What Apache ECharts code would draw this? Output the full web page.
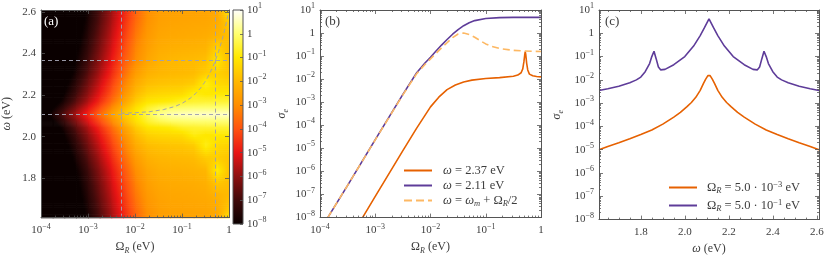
<!DOCTYPE html>
<html><head><meta charset="utf-8">
<script src="https://cdn.jsdelivr.net/npm/echarts@6/dist/echarts.min.js"></script>
<style>html,body{margin:0;padding:0;background:#fff}#c{width:830px;height:260px}</style>
</head><body><div id="c"></div>
<script>
// ================= DATA =================
// Panel (a): heat map of log10(sigma_e) on (log10 Omega_R, omega) grid
const omegaRows = [1.61,1.66,1.72,1.78,1.84,1.90,1.96,2.01,2.05,2.08,2.11,2.14,2.17,2.21,2.26,2.31,2.37,2.43,2.49,2.55,2.61];
const logOmegaRCols = [-4,-3.75,-3.5,-3.25,-3,-2.75,-2.5,-2.25,-2,-1.75,-1.5,-1.25,-1,-0.75,-0.5,-0.25,0];
const logSigmaGrid = [
 [-11.8,-10.8,-9.8,-8.8,-7.8,-6.8,-5.8,-4.8,-3.8,-3.0,-2.65,-2.57,-2.55,-2.52,-2.5,-2.4,-1.0],
 [-11.62,-10.62,-9.62,-8.62,-7.62,-6.62,-5.62,-4.62,-3.62,-2.9,-2.6,-2.5,-2.48,-2.45,-2.42,-2.3,-1.7],
 [-11.42,-10.42,-9.42,-8.42,-7.42,-6.42,-5.42,-4.42,-3.42,-2.75,-2.5,-2.42,-2.4,-2.37,-2.32,-2.12,-1.95],
 [-11.23,-10.23,-9.23,-8.23,-7.23,-6.23,-5.23,-4.23,-3.23,-2.6,-2.38,-2.32,-2.3,-2.27,-2.2,-1.7,-1.9],
 [-11.0,-10.0,-9.0,-8.0,-7.0,-6.0,-5.0,-4.0,-3.0,-2.45,-2.25,-2.2,-2.17,-2.13,-2.05,-0.85,-1.85],
 [-10.65,-9.65,-8.65,-7.65,-6.65,-5.65,-4.65,-3.65,-2.7,-2.2,-2.05,-2.0,-1.98,-1.93,-1.6,-1.55,-1.75],
 [-10.3,-9.3,-8.3,-7.3,-6.3,-5.3,-4.3,-3.3,-2.35,-1.9,-1.8,-1.75,-1.72,-1.6,-0.8,-1.3,-1.45],
 [-9.95,-8.95,-7.95,-6.95,-5.95,-4.95,-3.95,-2.95,-2.0,-1.5,-1.38,-1.33,-1.28,-0.85,-1.05,-1.0,-0.98],
 [-9.55,-8.55,-7.55,-6.55,-5.55,-4.55,-3.55,-2.55,-1.6,-1.05,-0.95,-0.85,-0.6,-0.55,-0.5,-0.5,-0.5],
 [-9.05,-8.05,-7.05,-6.05,-5.05,-4.05,-3.05,-2.05,-1.2,-0.6,-0.25,-0.05,0.0,0.05,0.05,0.05,0.05],
 [-8.6,-7.6,-6.6,-5.6,-4.6,-3.6,-2.6,-1.65,-1.0,-0.35,0.2,0.45,0.55,0.6,0.62,0.62,0.62],
 [-9.05,-8.05,-7.05,-6.05,-5.05,-4.05,-3.05,-2.05,-1.2,-0.6,-0.25,-0.05,0.0,0.05,0.05,0.05,0.05],
 [-9.55,-8.55,-7.55,-6.55,-5.55,-4.55,-3.55,-2.55,-1.6,-1.05,-0.95,-0.85,-0.6,-0.55,-0.5,-0.5,-0.5],
 [-9.95,-8.95,-7.95,-6.95,-5.95,-4.95,-3.95,-2.95,-2.0,-1.5,-1.38,-1.33,-1.28,-0.85,-1.05,-1.0,-0.98],
 [-10.3,-9.3,-8.3,-7.3,-6.3,-5.3,-4.3,-3.3,-2.35,-1.9,-1.8,-1.75,-1.72,-1.6,-0.8,-1.3,-1.45],
 [-10.65,-9.65,-8.65,-7.65,-6.65,-5.65,-4.65,-3.65,-2.7,-2.2,-2.05,-2.0,-1.98,-1.93,-1.6,-1.5,-1.75],
 [-10.95,-9.95,-8.95,-7.95,-6.95,-5.95,-4.95,-3.95,-3.05,-2.45,-2.15,-2.03,-1.96,-1.93,-1.85,-1.0,-1.9],
 [-11.2,-10.2,-9.2,-8.2,-7.2,-6.2,-5.2,-4.2,-3.2,-2.6,-2.3,-2.22,-2.18,-2.15,-2.1,-1.5,-1.95],
 [-11.42,-10.42,-9.42,-8.42,-7.42,-6.42,-5.42,-4.42,-3.42,-2.75,-2.45,-2.38,-2.35,-2.32,-2.28,-2.1,-1.85],
 [-11.62,-10.62,-9.62,-8.62,-7.62,-6.62,-5.62,-4.62,-3.62,-2.9,-2.55,-2.48,-2.45,-2.42,-2.4,-2.3,-1.6],
 [-11.8,-10.8,-9.8,-8.8,-7.8,-6.8,-5.8,-4.8,-3.8,-3.0,-2.65,-2.57,-2.55,-2.52,-2.5,-2.4,-1.0]
];
const refOmegaLines = [2.37, 2.11];
const refOmegaRLines = [5e-3, 0.5];
const upperBranchOmegaR = [0.005,0.01,0.02,0.04,0.07,0.1,0.15,0.2,0.25,0.3,0.35,0.4,0.45,0.5,0.6,0.7,0.8,0.9,1.0];
const upperBranchOmega  = [2.1125,2.115,2.12,2.13,2.145,2.16,2.185,2.21,2.235,2.26,2.285,2.31,2.335,2.36,2.41,2.46,2.51,2.56,2.61];

// colour scale: one colour per decade of sigma_e, 1e-8 ... 1e1
const cmapColors = ['#0a0000','#3e0a0a','#8c1010','#e81414','#ff5210','#ff8e00','#ffb800','#ffe800','#ffff70','#ffffff'];
const colorbarTicks = [1e-8,1e-7,1e-6,1e-5,1e-4,1e-3,1e-2,1e-1,1,10];

// Panel (b): log10(Omega_R) vs log10(sigma_e)
const bLogOmR_237 = [-3.23,-3,-2.5,-2.25,-2.0,-1.85,-1.7,-1.55,-1.4,-1.25,-1.0,-0.75,-0.5,-0.42,-0.36,-0.33,-0.31,-0.295,-0.285,-0.275,-0.26,-0.24,-0.21,-0.15,-0.08,0];
const bLogSig_237 = [-8,-7.08,-5.1,-4.12,-3.2,-2.78,-2.45,-2.25,-2.12,-2.04,-1.97,-1.93,-1.87,-1.82,-1.72,-1.55,-1.25,-0.95,-0.8,-0.95,-1.3,-1.6,-1.78,-1.85,-1.88,-1.9];
const bLogOmR_211 = [-3.86,-3.5,-3.0,-2.5,-2.25,-2.1,-2.0,-1.9,-1.8,-1.7,-1.6,-1.5,-1.4,-1.3,-1.2,-1.0,-0.75,-0.5,0];
const bLogSig_211 = [-8,-6.6,-4.62,-2.66,-1.72,-1.3,-1.05,-0.78,-0.52,-0.28,-0.05,0.15,0.32,0.45,0.54,0.63,0.67,0.68,0.68];
const bLogOmR_br  = [-3.86,-3.5,-3,-2.5,-2.25,-2.1,-2,-1.9,-1.8,-1.7,-1.6,-1.5,-1.4,-1.3,-1.2,-1.1,-1.0,-0.9,-0.75,-0.5,-0.3,0];
const bLogSig_br  = [-8,-6.6,-4.63,-2.68,-1.76,-1.36,-1.12,-0.88,-0.64,-0.42,-0.2,-0.04,0.0,-0.06,-0.18,-0.33,-0.47,-0.57,-0.67,-0.75,-0.78,-0.8];

// Panel (c): omega vs log10(sigma_e)
const cOmega_a = [1.61,1.65,1.70,1.75,1.80,1.85,1.90,1.95,1.98,2.01,2.03,2.05,2.07,2.085,2.095,2.105,2.11,2.115,2.125,2.135,2.15,2.17,2.19,2.21,2.24,2.27,2.32,2.37,2.42,2.47,2.52,2.57,2.61];
const cLogSig_a = [-5.0,-4.86,-4.7,-4.53,-4.35,-4.15,-3.9,-3.6,-3.4,-3.15,-2.97,-2.75,-2.45,-2.15,-1.97,-1.82,-1.8,-1.82,-1.97,-2.15,-2.45,-2.75,-2.97,-3.15,-3.4,-3.6,-3.9,-4.15,-4.35,-4.53,-4.7,-4.86,-5.0];
const cOmega_b = [1.61,1.65,1.70,1.75,1.78,1.80,1.82,1.84,1.85,1.86,1.87,1.88,1.89,1.91,1.95,2.00,2.04,2.07,2.09,2.11,2.13,2.15,2.18,2.22,2.27,2.31,2.33,2.34,2.35,2.36,2.37,2.38,2.40,2.42,2.44,2.47,2.52,2.57,2.61];
const cLogSig_b = [-2.46,-2.38,-2.27,-2.12,-2.0,-1.88,-1.65,-1.3,-1.0,-0.77,-1.1,-1.45,-1.57,-1.55,-1.35,-1.0,-0.55,-0.1,0.25,0.62,0.25,-0.1,-0.55,-1.0,-1.35,-1.55,-1.57,-1.45,-1.1,-0.77,-1.0,-1.3,-1.65,-1.88,-2.0,-2.12,-2.27,-2.38,-2.46];

const decadesX = [1e-4,1e-3,1e-2,1e-1,1];
const decadesY = [1e-8,1e-7,1e-6,1e-5,1e-4,1e-3,1e-2,1e-1,1,10];
const omegaTicks = [1.8,2.0,2.2,2.4,2.6];

// ================= STYLE / BUILD =================
const FONT = 'Liberation Serif';
const TXT = '#3c3c3c';
const AX = '#555';
const C_OR = '#e66101', C_PU = '#5e3c99', C_LO = '#fdb863';

function minorsBetween(decs) {
  const out = [];
  for (let i = 0; i < decs.length - 1; i++) for (let k = 2; k <= 9; k++) out.push(k * decs[i]);
  return out;
}
const rich = {
  b: {fontFamily: FONT, fontSize: 11, color: TXT, lineHeight: 16},
  sup: {fontFamily: FONT, fontSize: 8, color: TXT, lineHeight: 8, verticalAlign: 'top'},
  i: {fontFamily: FONT, fontSize: 12, color: TXT, fontStyle: 'italic', lineHeight: 16},
  sub: {fontFamily: FONT, fontSize: 8, color: TXT, fontStyle: 'italic', lineHeight: 8, verticalAlign: 'bottom'},
  t: {fontFamily: FONT, fontSize: 12, color: TXT, lineHeight: 16}
};
function powFmt(v) {
  const e = Math.round(Math.log10(v));
  if (e === 0) return '{b|1}';
  return '{b|10}{sup|' + (e < 0 ? '−' + (-e) : e) + '}';
}
function axis(o) {
  const a = {
    type: o.type, gridIndex: o.grid, position: o.pos, min: o.min, max: o.max, z: 10,
    axisLine: {show: !!o.line, onZero: false, lineStyle: {color: AX, width: 1}},
    axisTick: {show: !!o.ticks, inside: true, length: o.len || 4, customValues: o.ticks, lineStyle: {color: AX, width: 0.8}},
    axisLabel: {show: !!o.labels, customValues: o.labels, formatter: o.fmt, margin: o.margin || 5, rich: rich,
      showMinLabel: true, showMaxLabel: true, fontFamily: FONT, fontSize: 11, color: TXT},
    splitLine: {show: false}, minorTick: {show: false}
  };
  if (o.type === 'log') a.logBase = 10;
  if (o.name) {
    a.name = o.name; a.nameLocation = 'middle'; a.nameGap = o.gap;
    a.nameTextStyle = {rich: rich, fontFamily: FONT, fontSize: 12, color: TXT};
  }
  if (o.show === false) a.show = false;
  return a;
}
const fmtOmega = v => '{b|' + v.toFixed(1) + '}';
const minX = minorsBetween(decadesX), minY = minorsBetween(decadesY);
const omegaMinor = [1.65,1.7,1.75,1.85,1.9,1.95,2.05,2.1,2.15,2.25,2.3,2.35,2.45,2.5,2.55];
const nameOmR = '{t|Ω}{sub|R}{t| (eV)}';
const nameOm = '{i|ω}{t| (eV)}';
const nameSig = '{i|σ}{sub|e}';

const xAxis = [
  axis({type:'log', grid:0, pos:'bottom', min:1e-4, max:1, line:true, ticks:decadesX, labels:decadesX, fmt:powFmt, name:nameOmR, gap:17}),
  axis({type:'log', grid:0, pos:'bottom', min:1e-4, max:1, ticks:minX, len:2}),
  axis({type:'log', grid:0, pos:'top', min:1e-4, max:1, line:true, ticks:decadesX}),
  axis({type:'log', grid:0, pos:'top', min:1e-4, max:1, ticks:minX, len:2}),
  axis({type:'value', grid:1, pos:'bottom', min:0, max:1, show:false}),
  axis({type:'log', grid:2, pos:'bottom', min:1e-4, max:1, line:true, ticks:decadesX, labels:decadesX, fmt:powFmt, name:nameOmR, gap:17}),
  axis({type:'log', grid:2, pos:'bottom', min:1e-4, max:1, ticks:minX, len:2}),
  axis({type:'log', grid:2, pos:'top', min:1e-4, max:1, line:true, ticks:decadesX}),
  axis({type:'log', grid:2, pos:'top', min:1e-4, max:1, ticks:minX, len:2}),
  axis({type:'value', grid:3, pos:'bottom', min:1.61, max:2.61, line:true, ticks:omegaTicks, labels:omegaTicks, fmt:fmtOmega, name:nameOm, gap:17}),
  axis({type:'value', grid:3, pos:'bottom', min:1.61, max:2.61, ticks:omegaMinor, len:2}),
  axis({type:'value', grid:3, pos:'top', min:1.61, max:2.61, line:true, ticks:omegaTicks}),
  axis({type:'value', grid:3, pos:'top', min:1.61, max:2.61, ticks:omegaMinor, len:2})
];
const yAxis = [
  axis({type:'value', grid:0, pos:'left', min:1.61, max:2.61, line:true, ticks:omegaTicks, labels:omegaTicks, fmt:fmtOmega, name:nameOm, gap:26}),
  axis({type:'value', grid:0, pos:'right', min:1.61, max:2.61, line:true, ticks:omegaTicks}),
  axis({type:'log', grid:1, pos:'right', min:1e-8, max:10, ticks:colorbarTicks, labels:colorbarTicks, fmt:powFmt, len:3, margin:4}),
  axis({type:'log', grid:2, pos:'left', min:1e-8, max:10, line:true, ticks:decadesY, labels:decadesY, fmt:powFmt, name:nameSig, gap:30}),
  axis({type:'log', grid:2, pos:'left', min:1e-8, max:10, ticks:minY, len:2}),
  axis({type:'log', grid:2, pos:'right', min:1e-8, max:10, line:true, ticks:decadesY}),
  axis({type:'log', grid:2, pos:'right', min:1e-8, max:10, ticks:minY, len:2}),
  axis({type:'log', grid:3, pos:'left', min:1e-8, max:10, line:true, ticks:decadesY, labels:decadesY, fmt:powFmt, name:nameSig, gap:34}),
  axis({type:'log', grid:3, pos:'left', min:1e-8, max:10, ticks:minY, len:2}),
  axis({type:'log', grid:3, pos:'right', min:1e-8, max:10, line:true, ticks:decadesY}),
  axis({type:'log', grid:3, pos:'right', min:1e-8, max:10, ticks:minY, len:2})
];

// colour of a log10(sigma) value, through ECharts' own colour interpolation
const LMIN = -8, LMAX = 1;
function colorOf(v) {
  const t = Math.max(0, Math.min(1, (v - LMIN) / (LMAX - LMIN)));
  return echarts.color.lerp(t, cmapColors);
}
// heat map: one smoothly shaded cell between neighbouring grid nodes
const heatData = [];
for (let ri = 0; ri < omegaRows.length - 1; ri++) {
  for (let ci = 0; ci < logOmegaRCols.length - 1; ci++) {
    heatData.push([Math.pow(10, logOmegaRCols[ci]), omegaRows[ri], logSigmaGrid[ri][ci], ci, ri]);
  }
}
const SUBV = 6, SUBH = 6;
function heatItem(params, api) {
  const ci = api.value(3), ri = api.value(4);
  const g = logSigmaGrid;
  const x0 = Math.pow(10, logOmegaRCols[ci]), x1 = Math.pow(10, logOmegaRCols[ci + 1]);
  const children = [];
  for (let s = 0; s < SUBV; s++) {
    const fa = s / SUBV, fb = (s + 1) / SUBV, fm = (s + 0.5) / SUBV;
    const ya = omegaRows[ri] + fa * (omegaRows[ri + 1] - omegaRows[ri]);
    const yb = omegaRows[ri] + fb * (omegaRows[ri + 1] - omegaRows[ri]);
    const vl = g[ri][ci] + fm * (g[ri + 1][ci] - g[ri][ci]);
    const vr = g[ri][ci + 1] + fm * (g[ri + 1][ci + 1] - g[ri][ci + 1]);
    const pA = api.coord([x0, ya]);
    const pB = api.coord([x1, yb]);
    const stops = [];
    for (let k = 0; k <= SUBH; k++) stops.push({offset: k / SUBH, color: colorOf(vl + (k / SUBH) * (vr - vl))});
    children.push({type: 'rect', shape: {x: pA[0], y: pB[1], width: pB[0] - pA[0] + 0.7, height: pA[1] - pB[1] + 0.7},
      style: {fill: {type: 'linear', x: 0, y: 0, x2: 1, y2: 0, colorStops: stops}}});
  }
  return {type: 'group', children: children};
}
function colorbarItem(params, api) {
  const cs = params.coordSys;
  const stops = cmapColors.map((c, i) => ({offset: i / (cmapColors.length - 1), color: c}));
  return {type: 'rect', shape: {x: cs.x, y: cs.y, width: cs.width, height: cs.height},
    style: {fill: {type: 'linear', x: 0, y: 1, x2: 0, y2: 0, colorStops: stops}, stroke: AX, lineWidth: 1}};
}
const toPts = (xs, ys) => xs.map((x, i) => [Math.pow(10, x), Math.pow(10, ys[i])]);
const toPtsLin = (xs, ys) => xs.map((x, i) => [x, Math.pow(10, ys[i])]);

const names = {
  b1: 'ω = 2.37 eV', b2: 'ω = 2.11 eV', b3: 'ω = ωm + ΩR/2',
  c1: 'ΩR = 5.0·10−3 eV', c2: 'ΩR = 5.0·10−1 eV'
};
const legendRich = {
  i: {fontFamily: FONT, fontSize: 12.5, fontStyle: 'italic', color: TXT, lineHeight: 15},
  t: {fontFamily: FONT, fontSize: 12.5, color: TXT, lineHeight: 15},
  sub: {fontFamily: FONT, fontSize: 8.5, fontStyle: 'italic', color: TXT, lineHeight: 7, verticalAlign: 'bottom'},
  sup: {fontFamily: FONT, fontSize: 8.5, color: TXT, lineHeight: 7, verticalAlign: 'top'}
};
const legendFmt = {
  [names.b1]: '{i|ω}{t| = 2.37 eV}',
  [names.b2]: '{i|ω}{t| = 2.11 eV}',
  [names.b3]: '{i|ω}{t| = }{i|ω}{sub|m}{t| + Ω}{sub|R}{t|/2}',
  [names.c1]: '{t|Ω}{sub|R}{t| = 5.0 · 10}{sup|−3}{t| eV}',
  [names.c2]: '{t|Ω}{sub|R}{t| = 5.0 · 10}{sup|−1}{t| eV}'
};
const ICON_SOLID = 'path://M0,0 L28,0 L28,2 L0,2 Z';
const ICON_DASH = 'path://M0,0 L8,0 L8,2 L0,2 Z M12,0 L20,0 L20,2 L12,2 Z M24,0 L28,0 L28,2 L24,2 Z';
const dashGray = 'rgba(160,160,175,0.95)';

const option = {
  animation: false,
  backgroundColor: '#fff',
  grid: [
    {left: 38, top: 10, width: 191, height: 214},
    {left: 233, top: 10, width: 10, height: 214},
    {left: 320, top: 10, width: 221, height: 214},
    {left: 599, top: 10, width: 220, height: 214}
  ],
  xAxis: xAxis, yAxis: yAxis,
  legend: [
    {data: [{name: names.b1, icon: ICON_SOLID}, {name: names.b2, icon: ICON_SOLID}, {name: names.b3, icon: ICON_DASH}],
      left: 399, top: 159, orient: 'vertical', itemWidth: 28, itemHeight: 2, itemGap: 2,
      formatter: n => legendFmt[n], textStyle: {rich: legendRich, padding: [0, 0, 0, 6]}, selectedMode: false},
    {data: [{name: names.c1, icon: ICON_SOLID}, {name: names.c2, icon: ICON_SOLID}],
      left: 664, top: 175, orient: 'vertical', itemWidth: 28, itemHeight: 2, itemGap: 3,
      formatter: n => legendFmt[n], textStyle: {rich: legendRich, padding: [0, 0, 0, 5]}, selectedMode: false}
  ],
  graphic: [
    {type: 'text', left: 44, top: 15, z: 20, style: {text: '(a)', fill: '#fff', font: '13px "Liberation Serif"'}},
    {type: 'text', left: 325, top: 15, z: 20, style: {text: '(b)', fill: TXT, font: '13px "Liberation Serif"'}},
    {type: 'text', left: 605, top: 15, z: 20, style: {text: '(c)', fill: TXT, font: '13px "Liberation Serif"'}}
  ],
  series: [
    {type: 'custom', xAxisIndex: 0, yAxisIndex: 0, renderItem: heatItem, data: heatData, z: 1, silent: true, encode: {x: 0, y: 1}},
    {type: 'custom', xAxisIndex: 4, yAxisIndex: 2, renderItem: colorbarItem, data: [[0.5, 1]], z: 1, silent: true},
    {type: 'line', xAxisIndex: 0, yAxisIndex: 0, z: 5, symbol: 'none', silent: true,
      data: upperBranchOmegaR.map((x, i) => [x, upperBranchOmega[i]]),
      lineStyle: {color: dashGray, width: 1, type: [4, 3]},
      markLine: {symbol: 'none', silent: true, precision: 6, label: {show: false},
        lineStyle: {color: dashGray, width: 1, type: [4, 3]},
        data: refOmegaLines.map(v => ({yAxis: v})).concat(refOmegaRLines.map(v => ({xAxis: v})))}},
    {name: names.b1, type: 'line', xAxisIndex: 5, yAxisIndex: 3, symbol: 'none', color: C_OR, lineStyle: {width: 1.6, color: C_OR}, data: toPts(bLogOmR_237, bLogSig_237), z: 6},
    {name: names.b2, type: 'line', xAxisIndex: 5, yAxisIndex: 3, symbol: 'none', color: C_PU, lineStyle: {width: 1.6, color: C_PU}, data: toPts(bLogOmR_211, bLogSig_211), z: 5},
    {name: names.b3, type: 'line', xAxisIndex: 5, yAxisIndex: 3, symbol: 'none', color: C_LO, lineStyle: {width: 1.6, color: C_LO, type: [7, 4]}, data: toPts(bLogOmR_br, bLogSig_br), z: 7},
    {name: names.c1, type: 'line', xAxisIndex: 9, yAxisIndex: 7, symbol: 'none', color: C_OR, lineStyle: {width: 1.6, color: C_OR}, data: toPtsLin(cOmega_a, cLogSig_a), z: 6},
    {name: names.c2, type: 'line', xAxisIndex: 9, yAxisIndex: 7, symbol: 'none', color: C_PU, lineStyle: {width: 1.6, color: C_PU}, data: toPtsLin(cOmega_b, cLogSig_b), z: 5}
  ]
};
const chart = echarts.init(document.getElementById('c'), null, {renderer: 'canvas'});
chart.setOption(option);
</script>
</body></html>
